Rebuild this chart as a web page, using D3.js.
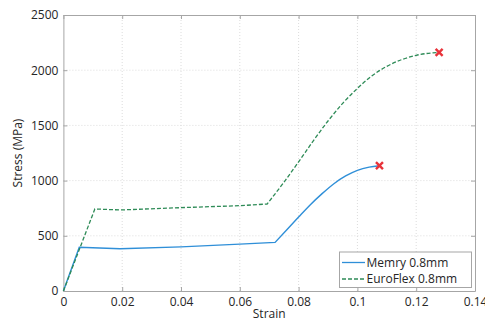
<!DOCTYPE html>
<html><head><meta charset="utf-8">
<script src="https://cdn.jsdelivr.net/npm/d3@7"></script>
<style>body{margin:0;background:#fff}svg{display:block;font-family:"Open Sans",sans-serif}</style>
</head><body><svg id="c" width="485" height="321"></svg>
<script>
const seriesNames = ["Memry 0.8mm", "EuroFlex 0.8mm"];
// linear (elastic + plateau) part, then smooth hardening part
const memryStrain = [0, 0.0054, 0.0193, 0.04, 0.06, 0.072, 0.076, 0.080, 0.084, 0.088, 0.092, 0.096, 0.100, 0.104, 0.1075];
const memryStress = [0, 396, 383, 400, 425, 440, 555, 670, 782, 882, 972, 1042, 1093, 1122, 1135];
const memryKnee = 5;
const euroStrain = [0, 0.0107, 0.0193, 0.04, 0.06, 0.0693, 0.075, 0.080, 0.085, 0.090, 0.095, 0.100, 0.105, 0.110, 0.115, 0.120, 0.1278];
const euroStress = [0, 743, 734, 755, 773, 788, 985, 1170, 1360, 1540, 1700, 1835, 1950, 2035, 2095, 2135, 2162];
const euroKnee = 5;
const xTicks = [0, 0.02, 0.04, 0.06, 0.08, 0.1, 0.12, 0.14];
const yTicks = [0, 500, 1000, 1500, 2000, 2500];

const svg = d3.select("#c");
const x = d3.scaleLinear().domain([0, 0.14]).range([63.4, 475]);
const y = d3.scaleLinear().domain([0, 2500]).range([291, 15]);
const gray = "#a6a6a6";

// grid
svg.append("g").selectAll("line").data(xTicks.slice(1, -1)).join("line")
  .attr("x1", d => x(d)).attr("x2", d => x(d)).attr("y1", y(0)).attr("y2", y(2500))
  .attr("stroke", "#dcdcdc").attr("stroke-dasharray", "1,2");
svg.append("g").selectAll("line").data(yTicks.slice(1, -1)).join("line")
  .attr("y1", d => y(d)).attr("y2", d => y(d)).attr("x1", x(0)).attr("x2", x(0.14))
  .attr("stroke", "#dcdcdc").attr("stroke-dasharray", "1,2");

// axes
const fmt = d => d === 0 ? "0" : String(d);
const ax = svg.append("g").attr("transform", `translate(0,${y(0)})`)
  .call(d3.axisBottom(x).tickValues(xTicks).tickFormat(fmt).tickSizeInner(-4).tickSizeOuter(0).tickPadding(6));
const ay = svg.append("g").attr("transform", `translate(${x(0)},0)`)
  .call(d3.axisLeft(y).tickValues(yTicks).tickFormat(fmt).tickSizeInner(-4).tickSizeOuter(0).tickPadding(5));
const at = svg.append("g").attr("transform", `translate(0,${y(2500)})`)
  .call(d3.axisTop(x).tickValues(xTicks).tickFormat("").tickSizeInner(-4).tickSizeOuter(0));
const ar = svg.append("g").attr("transform", `translate(${x(0.14)},0)`)
  .call(d3.axisRight(y).tickValues(yTicks).tickFormat("").tickSizeInner(-4).tickSizeOuter(0));
[ax, ay, at, ar].forEach(g => {
  g.selectAll("path,line").attr("stroke", gray);
  g.selectAll("text").attr("fill", "#262626").style("font-size", "12px").style("font-family", "'Open Sans',sans-serif");
});

// labels
svg.append("text").attr("x", (x(0) + x(0.14)) / 2).attr("y", 318).attr("text-anchor", "middle")
  .style("font-size", "12px").attr("fill", "#262626").text("Strain");
svg.append("text").attr("transform", `translate(22,${(y(0) + y(2500)) / 2}) rotate(-90)`).attr("text-anchor", "middle")
  .style("font-size", "12px").attr("fill", "#262626").text("Stress (MPa)");

// lines: straight segments up to the knee, smooth curve after
const lin = d3.line();
const smooth = d3.line().curve(d3.curveMonotoneX);
function pathFor(xs, ys, knee) {
  const pts = xs.map((s, i) => [x(s), y(ys[i])]);
  const a = lin(pts.slice(0, knee + 1));
  const b = smooth(pts.slice(knee)).replace(/^M[^LC]*/, "");
  return { d: a + b, pts };
}
const blue = "#2f8fd8", green = "#2e8b57";
const m = pathFor(memryStrain, memryStress, memryKnee);
const e = pathFor(euroStrain, euroStress, euroKnee);
svg.append("path").attr("d", m.d).attr("fill", "none").attr("stroke", blue).attr("stroke-width", 1.4);
svg.append("path").attr("d", e.d).attr("fill", "none").attr("stroke", green).attr("stroke-width", 1.3).attr("stroke-dasharray", "4,2");

// failure markers
const xmark = (p) => {
  const s = 3.5;
  svg.append("path").attr("d", `M${p[0]-s},${p[1]-s}L${p[0]+s},${p[1]+s}M${p[0]-s},${p[1]+s}L${p[0]+s},${p[1]-s}`)
    .attr("stroke", "#e8333a").attr("stroke-width", 2.4).attr("fill", "none");
};
xmark(m.pts[m.pts.length - 1]);
xmark(e.pts[e.pts.length - 1]);

// legend
const lg = svg.append("g");
lg.append("rect").attr("x", 339.5).attr("y", 252).attr("width", 132).attr("height", 35.5)
  .attr("fill", "#fff").attr("stroke", gray);
[[blue, null, 262.5], [green, "4,2", 279]].forEach((r, i) => {
  lg.append("line").attr("x1", 342).attr("x2", 365).attr("y1", r[2]).attr("y2", r[2])
    .attr("stroke", r[0]).attr("stroke-width", 1.3).attr("stroke-dasharray", r[1]);
  lg.append("text").attr("x", 366.5).attr("y", r[2] + 4).style("font-size", "12px").attr("fill", "#262626").text(seriesNames[i]);
});
</script></body></html>
